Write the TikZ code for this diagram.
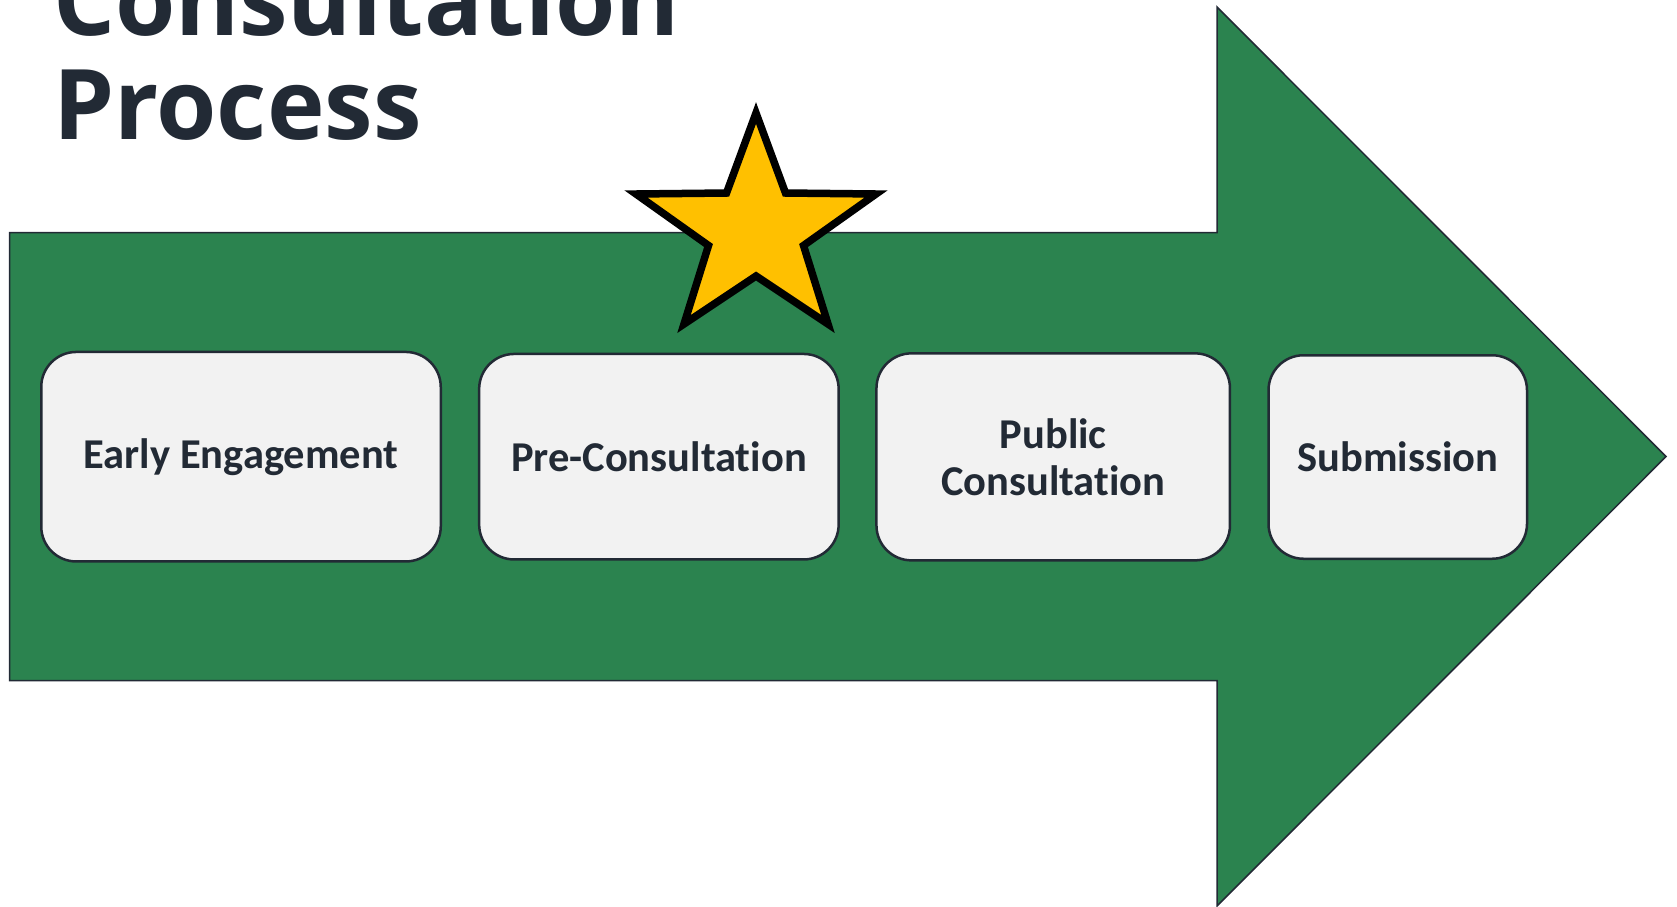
\documentclass[tikz,border=0pt]{standalone}
\usepackage{fontspec}
\newfontfamily\titlefont{Open Sans}
\newfontfamily\boxfont[Ligatures={NoCommon}]{Carlito}
\definecolor{arrowgreen}{RGB}{43,131,79}
\definecolor{navy}{RGB}{34,42,53}
\definecolor{boxfill}{RGB}{242,242,242}
\definecolor{stargold}{RGB}{255,192,0}
\tikzset{
  arrowbody/.style={fill=arrowgreen, draw=navy, line width=1.5pt, line join=miter},
  stage/.style={draw=navy, line width=2.5pt, fill=boxfill, rounded corners=35pt,
    text=navy, font={\boxfont\bfseries\fontsize{42.5}{47}\selectfont}, align=center,
    inner sep=0pt, outer sep=0pt},
  titletext/.style={text=navy, font={\titlefont\bfseries\fontsize{97.5}{104}\selectfont},
    anchor=base west, inner sep=0pt, outer sep=0pt},
  starshape/.style={fill=stargold, draw=black, line width=7.5pt, line join=miter, miter limit=10}
}
\begin{document}
\begin{tikzpicture}[x=1pt,y=-1pt]
\useasboundingbox (0,0) rectangle (1677,906);
% title
\node[titletext] (title1) at (53,35) {Consultation};
\node[titletext] (title2) at (53,139.3) {Process};
% big arrow
\draw[arrowbody] (9.6,232.5) -- (1217,232.5) -- (1217,7) -- (1666,456.5)
  -- (1217,906) -- (1217,680.5) -- (9.6,680.5) -- cycle;
% star
\draw[starshape] (756,113) -- (785.5,193) -- (876,194) -- (803.5,245.5) -- (828,324)
  -- (756,276) -- (684,324) -- (708.5,245.5) -- (636,194) -- (726.5,193) -- cycle;
% stages
\node[stage, minimum width=399.5pt, minimum height=209.5pt] (early) at (241,456.7) {Early Engagement};
\node[stage, minimum width=359.5pt, minimum height=205.5pt] (pre) at (658.9,456.7) {Pre-Consultation};
\node[stage, minimum width=353.5pt, minimum height=207pt] (public) at (1053.2,456.85) {Public\\Consultation};
\node[stage, minimum width=258.5pt, minimum height=203.5pt] (submit) at (1397.75,457) {Submission};
\end{tikzpicture}
\end{document}
